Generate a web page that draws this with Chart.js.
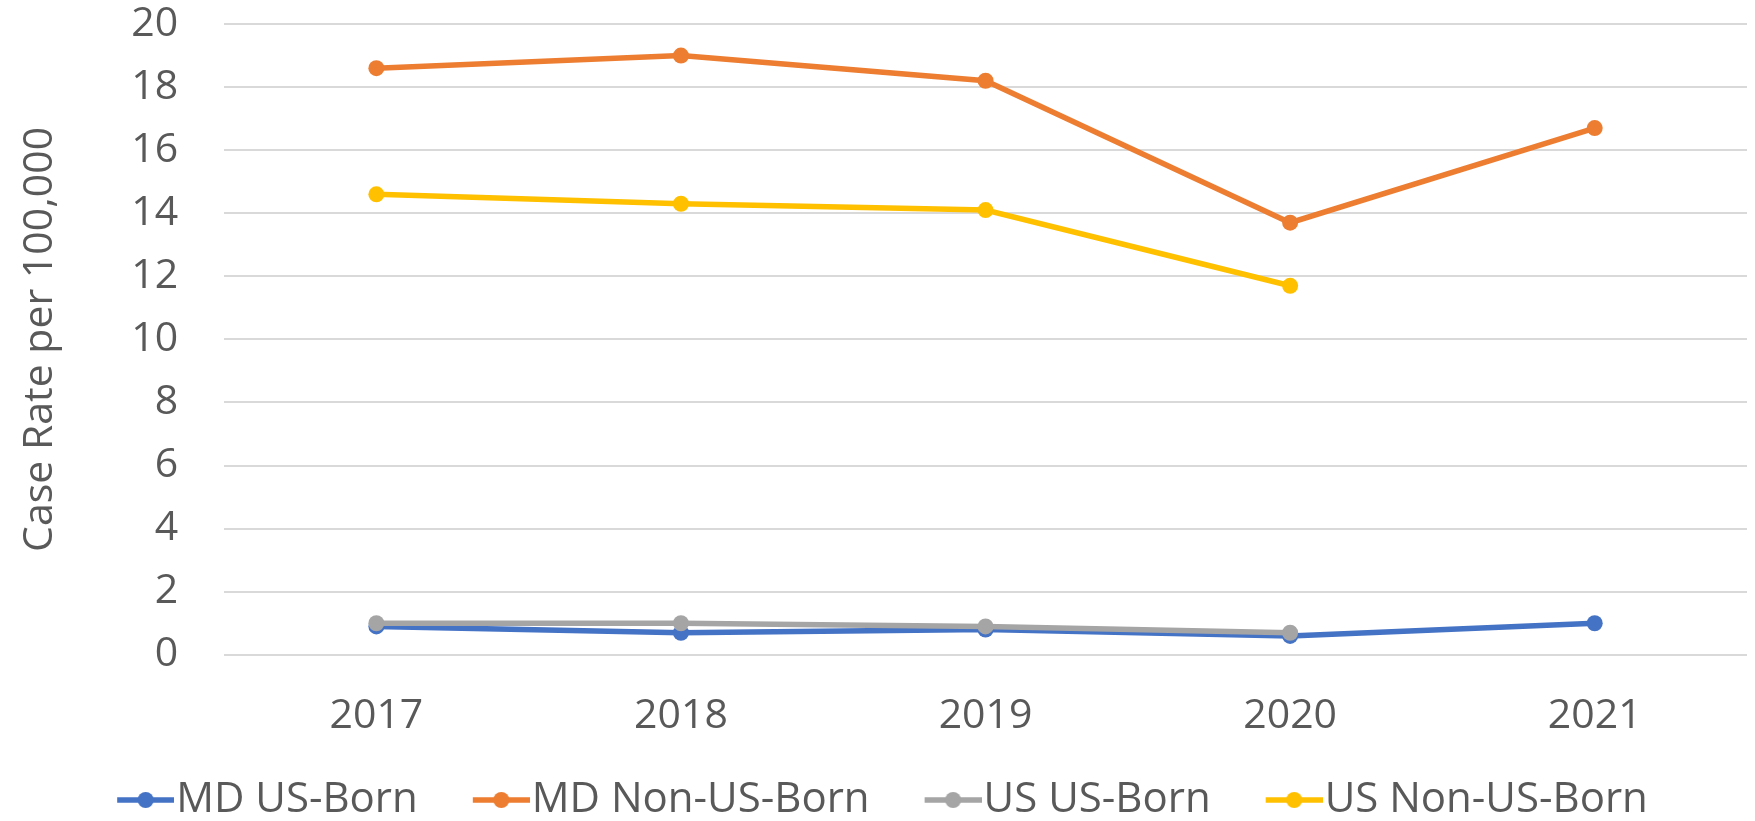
<!DOCTYPE html>
<html>
<head>
<meta charset="utf-8">
<script src="https://cdn.jsdelivr.net/npm/chart.js@4.4.1/dist/chart.umd.min.js"></script>
<style>
  html, body { margin: 0; padding: 0; background: #fff; }
  #wrap { width: 1755px; height: 821px; }
</style>
</head>
<body>
<div id="wrap"><canvas id="rateChart"></canvas></div>
<script>
const years = ["2017", "2018", "2019", "2020", "2021"];
const mdUsBorn = [0.9, 0.7, 0.8, 0.6, 1.0];
const mdNonUsBorn = [18.6, 19.0, 18.2, 13.7, 16.7];
const usUsBorn = [1.0, 1.0, 0.9, 0.7, null];
const usNonUsBorn = [14.6, 14.3, 14.1, 11.7, null];

const seriesNames = ["MD US-Born", "MD Non-US-Born", "US US-Born", "US Non-US-Born"];
const colors = ["#4472C4", "#ED7D31", "#A5A5A5", "#FFC000"];

const textColor = "#595959";
const fontFamily = "'Open Sans', sans-serif";

// legend marker: line with a dot, blank area on the left gives the gap between items
function legendMarker(color) {
  const c = document.createElement("canvas");
  c.width = 129;
  c.height = 18;
  const g = c.getContext("2d");
  g.strokeStyle = color;
  g.lineWidth = 5.5;
  g.beginPath();
  g.moveTo(72, 9);
  g.lineTo(129, 9);
  g.stroke();
  g.fillStyle = color;
  g.beginPath();
  g.arc(100.5, 9, 8, 0, Math.PI * 2);
  g.fill();
  return c;
}

function makeSet(i, data) {
  return {
    label: seriesNames[i],
    data: data,
    borderColor: colors[i],
    backgroundColor: colors[i],
    borderWidth: 5.5,
    pointRadius: 8,
    pointHoverRadius: 8,
    pointBorderWidth: 0,
    pointStyle: legendMarker(colors[i]),
    tension: 0,
    order: 4 - i
  };
}

// draw dots as circles on the chart, the canvas style is only for the legend
const dotPlugin = {
  id: "dots",
  beforeDatasetsDraw(chart) {
    chart.data.datasets.forEach((ds, i) => {
      chart.getDatasetMeta(i).data.forEach(p => { p.options.pointStyle = "circle"; });
    });
  }
};

// nudge the legend so the visible part sits centred and a bit lower
const legendShift = {
  id: "legendShift",
  afterLayout(chart) {
    chart.legend.left -= 27;
    chart.legend.right -= 27;
    chart.legend.top += 10;
    chart.legend.bottom += 10;
  }
};

new Chart(document.getElementById("rateChart"), {
  type: "line",
  data: {
    labels: years,
    datasets: [
      makeSet(0, mdUsBorn),
      makeSet(1, mdNonUsBorn),
      makeSet(2, usUsBorn),
      makeSet(3, usNonUsBorn)
    ]
  },
  options: {
    responsive: true,
    maintainAspectRatio: false,
    animation: false,
    layout: { padding: { left: 16, right: 5, top: 0, bottom: 0 } },
    plugins: {
      tooltip: { enabled: false },
      legend: {
        position: "bottom",
        labels: {
          usePointStyle: true,
          pointStyleWidth: 91,
          padding: 2,
          color: textColor,
          font: { family: fontFamily, size: 42 },
          sort: (a, b) => a.datasetIndex - b.datasetIndex
        }
      }
    },
    scales: {
      x: {
        offset: true,
        grid: { display: false, drawTicks: false },
        border: { display: false },
        ticks: {
          color: textColor,
          padding: 37,
          font: { family: fontFamily, size: 41 }
        },
        afterFit(scale) {
          scale.height -= 11;
        }
      },
      y: {
        min: 0,
        max: 20,
        grid: { color: "#D9D9D9", lineWidth: 2, drawTicks: false },
        border: { display: false },
        ticks: {
          stepSize: 2,
          color: textColor,
          padding: 46,
          font: { family: fontFamily, size: 41 }
        },
        title: {
          display: true,
          text: "Case Rate per 100,000",
          color: textColor,
          padding: { top: 0, bottom: 20 },
          font: { family: fontFamily, size: 41 }
        },
        // tick padding is also added above/below the axis; keep only half a label
        afterFit(scale) {
          scale.paddingTop = 24;
          scale.paddingBottom = 24;
        }
      }
    }
  },
  plugins: [dotPlugin, legendShift]
});
</script>
</body>
</html>
